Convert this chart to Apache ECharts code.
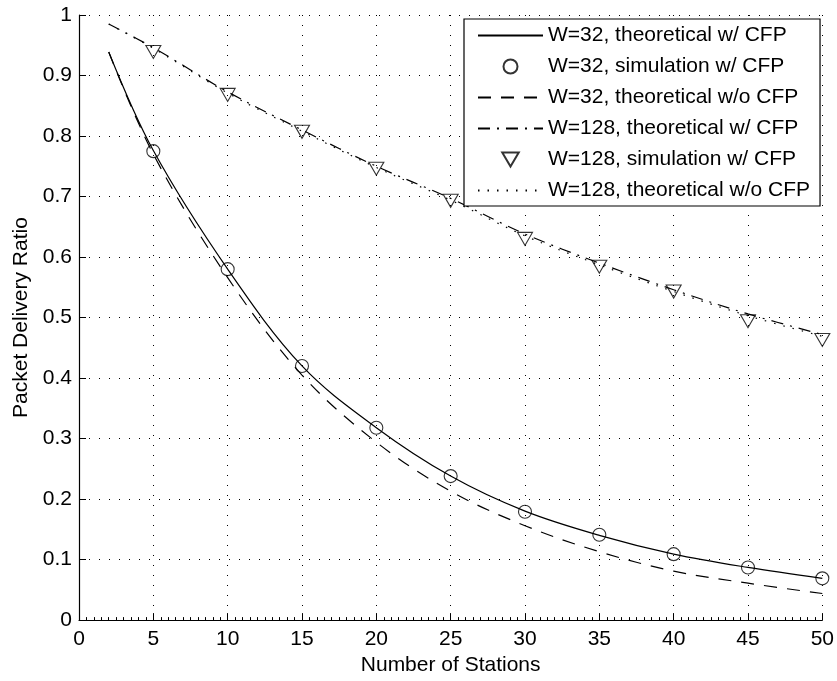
<!DOCTYPE html>
<html>
<head>
<meta charset="utf-8">
<script src="https://cdn.jsdelivr.net/npm/echarts@6/dist/echarts.min.js"></script>
<style>html,body{margin:0;padding:0;background:#fff}#c{width:837px;height:681px}</style>
</head>
<body>
<div id="c"></div>
<script>
// Data
var xTheory = [2, 5, 10, 15, 20, 25, 30, 35, 40, 45, 50];
var w32TheoCfp   = [0.939, 0.776, 0.580, 0.420, 0.318, 0.238, 0.180, 0.140, 0.109, 0.087, 0.069];
var w32TheoNoCfp = [0.939, 0.770, 0.566, 0.405, 0.294, 0.213, 0.156, 0.113, 0.081, 0.061, 0.044];
var w128TheoCfp  = [0.985, 0.946, 0.873, 0.810, 0.750, 0.697, 0.638, 0.590, 0.546, 0.506, 0.472];
var w128TheoNoCfp= [0.985, 0.945, 0.871, 0.808, 0.748, 0.694, 0.635, 0.587, 0.543, 0.503, 0.469];
var xSim = [5, 10, 15, 20, 25, 30, 35, 40, 45, 50];
var w32Sim  = [0.775, 0.580, 0.420, 0.318, 0.238, 0.179, 0.141, 0.109, 0.087, 0.069];
var w128Sim = [0.939, 0.868, 0.807, 0.746, 0.693, 0.630, 0.584, 0.543, 0.494, 0.463];
var seriesNames = [
  'W=32, theoretical w/ CFP',
  'W=32, simulation w/ CFP',
  'W=32, theoretical w/o CFP',
  'W=128, theoretical w/ CFP',
  'W=128, simulation w/ CFP',
  'W=128, theoretical w/o CFP'
];
var isLine = [true, false, true, true, false, true];
var xTicks = [0, 5, 10, 15, 20, 25, 30, 35, 40, 45, 50];
var yTicks = [0, 0.1, 0.2, 0.3, 0.4, 0.5, 0.6, 0.7, 0.8, 0.9, 1];

function pairs(xs, ys) { return xs.map(function (x, i) { return [x, ys[i]]; }); }

var FONT = 'Liberation Sans, Arial, Helvetica, sans-serif';
var chart = echarts.init(document.getElementById('c'), null, {renderer: 'canvas'});

function lineSeries(name, xs, ys, type, width) {
  return {
    name: name, type: 'line', data: pairs(xs, ys), smooth: 0.35,
    symbol: 'none', showSymbol: false, animation: false,
    lineStyle: {color: '#000', width: width, type: type},
    itemStyle: {color: '#000'}
  };
}
function simSeries(name, xs, ys, symbol, size) {
  return {
    name: name, type: 'scatter', data: pairs(xs, ys), symbol: symbol, symbolSize: size,
    animation: false, z: 5,
    itemStyle: {color: 'rgba(255,255,255,0)', borderColor: '#000', borderWidth: 1.1}
  };
}

var tri = 'path://M0,0 L10,0 L5,8.5 Z';

chart.setOption({
  backgroundColor: '#fff',
  animation: false,
  textStyle: {fontFamily: FONT},
  grid: {left: 79, right: 14, top: 15, bottom: 60, containLabel: false},
  legend: {
    orient: 'vertical', left: 464, top: 19,
    backgroundColor: '#fff', borderColor: '#000', borderWidth: 1.2, borderRadius: 0,
    padding: [6, 10, 5, 13], itemGap: 10, itemWidth: 65, itemHeight: 14,
    textStyle: {fontFamily: FONT, fontSize: 21, color: '#000', lineHeight: 21},
    data: seriesNames.map(function (n, i) {
      return isLine[i] ? {name: n, itemStyle: {opacity: 0}} : {name: n};
    }),
    selectedMode: false
  },
  xAxis: {
    type: 'value', min: 0, max: 50, interval: 5,
    name: 'Number of Stations', nameLocation: 'middle', nameGap: 31,
    nameTextStyle: {fontFamily: FONT, fontSize: 21, color: '#000'},
    axisLine: {show: true, lineStyle: {color: '#000', width: 1.2}},
    axisTick: {show: true, inside: true, length: 7, lineStyle: {color: '#000'}},
    minorTick: {show: true, splitNumber: 10, length: 3, lineStyle: {color: '#000'}},
    axisLabel: {fontFamily: FONT, fontSize: 21, color: '#000', margin: 9,
      customValues: xTicks, formatter: function (v) { return String(v); }},
    splitLine: {show: true, lineStyle: {color: '#000', width: 1, type: [1, 9]}}
  },
  yAxis: {
    type: 'value', min: 0, max: 1, interval: 0.1,
    name: 'Packet Delivery Ratio', nameLocation: 'middle', nameGap: 47, nameRotate: 90,
    nameTextStyle: {fontFamily: FONT, fontSize: 21, color: '#000'},
    axisLine: {show: true, lineStyle: {color: '#000', width: 1.2}},
    axisTick: {show: true, inside: true, length: 7, lineStyle: {color: '#000'}},
    axisLabel: {fontFamily: FONT, fontSize: 21, color: '#000', margin: 7,
      formatter: function (v) {
        var r = Math.round(v * 10) / 10;
        return yTicks.indexOf(r) >= 0 ? String(r) : '';
      }},
    splitLine: {show: true, lineStyle: {color: '#000', width: 1, type: [1, 9]}}
  },
  series: [
    lineSeries(seriesNames[0], xTheory, w32TheoCfp, 'solid', 1.2),
    simSeries(seriesNames[1], xSim, w32Sim, 'circle', 13),
    lineSeries(seriesNames[2], xTheory, w32TheoNoCfp, [13, 10], 1.2),
    lineSeries(seriesNames[3], xTheory, w128TheoCfp, [12, 7, 2, 7], 1.2),
    simSeries(seriesNames[4], xSim, w128Sim, tri, [15, 13]),
    lineSeries(seriesNames[5], xTheory, w128TheoNoCfp, [1.5, 8], 1.2)
  ]
});
</script>
</body>
</html>
